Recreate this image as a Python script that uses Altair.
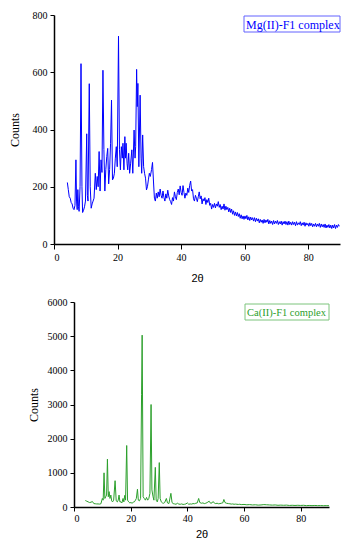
import altair as alt
import pandas as pd

# ---------------- Mg(II)-F1 complex (top) ----------------
mg_label = ["Mg(II)-F1 complex"]
# sharp-peak region (2θ < 31.5)
mg_theta_peaks = [4.2, 4.5, 4.8, 5.1, 5.4, 5.7, 6.0, 6.3, 6.6, 6.9, 7.1, 7.3, 7.5, 7.7, 7.9,
                  8.2, 8.5, 8.8, 9.0, 9.3, 9.6, 9.9, 10.3, 10.5, 10.7, 11.1, 11.4, 11.7, 12.0,
                  12.3, 12.6, 13.0, 13.3, 13.6, 13.9, 14.2, 14.5, 14.8, 15.1, 15.4, 15.7, 16.0,
                  16.3, 16.6, 16.9, 17.2, 17.5, 17.8, 18.1, 18.4, 18.7, 19.0, 19.3, 19.6, 19.9,
                  20.3, 20.6, 20.9, 21.2, 21.5, 21.7, 22.0, 22.3, 22.5, 22.7, 23.0, 23.2, 23.5,
                  23.8, 24.1, 24.5, 24.8, 25.2, 25.5, 25.7, 26.0, 26.2, 26.4, 26.7, 27.1, 27.4,
                  27.6, 27.9, 28.2, 28.5, 28.8, 29.1, 29.4, 29.7, 30.0, 30.3, 30.7, 31.0, 31.3]
mg_counts_peaks = [215, 190, 165, 160, 145, 140, 125, 120, 135, 294, 150, 120, 190, 130, 114,
                   200, 630, 200, 110, 118, 130, 150, 385, 170, 150, 560, 200, 125, 140,
                   150, 160, 247, 190, 236, 200, 323, 185, 294, 250, 607, 330, 185,
                   260, 305, 334, 210, 260, 352, 503, 224, 230, 247, 300, 340, 270,
                   726, 329, 259, 340, 300, 352, 259, 375, 300, 352, 280, 259, 317,
                   247, 280, 329, 247, 398, 300, 340, 610, 480, 561, 270, 520, 300,
                   247, 381, 270, 247, 230, 189, 200, 224, 247, 236, 260, 285, 220]
# noisy amorphous tail (2θ >= 31.6)
mg_theta_tail = [31.6, 31.9, 32.2, 32.5, 32.8, 33.1, 33.4, 33.7, 34.0, 34.3,
                 34.6, 34.9, 35.2, 35.5, 35.8, 36.1, 36.4, 36.7, 37.0, 37.3,
                 37.6, 37.9, 38.2, 38.5, 38.8, 39.1, 39.4, 39.7, 40.0, 40.3,
                 40.6, 40.9, 41.2, 41.5, 41.8, 42.1, 42.4, 42.7, 43.0, 43.3,
                 43.6, 43.9, 44.2, 44.5, 44.8, 45.1, 45.4, 45.7, 46.0, 46.3,
                 46.6, 46.9, 47.2, 47.5, 47.8, 48.1, 48.4, 48.7, 49.0, 49.3,
                 49.6, 49.9, 50.2, 50.5, 50.8, 51.1, 51.4, 51.7, 52.0, 52.3,
                 52.6, 52.9, 53.2, 53.5, 53.8, 54.1, 54.4, 54.7, 55.0, 55.3,
                 55.6, 55.9, 56.2, 56.5, 56.8, 57.1, 57.4, 57.7, 58.0, 58.3,
                 58.6, 58.9, 59.2, 59.5, 59.8, 60.1, 60.4, 60.7, 61.0, 61.3,
                 61.6, 61.9, 62.2, 62.5, 62.8, 63.1, 63.4, 63.7, 64.0, 64.3,
                 64.6, 64.9, 65.2, 65.5, 65.8, 66.1, 66.4, 66.7, 67.0, 67.3,
                 67.6, 67.9, 68.2, 68.5, 68.8, 69.1, 69.4, 69.7, 70.0, 70.3,
                 70.6, 70.9, 71.2, 71.5, 71.8, 72.1, 72.4, 72.7, 73.0, 73.3,
                 73.6, 73.9, 74.2, 74.5, 74.8, 75.1, 75.4, 75.7, 76.0, 76.3,
                 76.6, 76.9, 77.2, 77.5, 77.8, 78.1, 78.4, 78.7, 79.0, 79.3,
                 79.6, 79.9, 80.2, 80.5, 80.8, 81.1, 81.4, 81.7, 82.0, 82.3,
                 82.6, 82.9, 83.2, 83.5, 83.8, 84.1, 84.4, 84.7, 85.0, 85.3,
                 85.6, 85.9, 86.2, 86.5, 86.8, 87.1, 87.4, 87.7, 88.0, 88.3,
                 88.6, 88.9, 89.2, 89.5, 89.8]
mg_counts_tail = [160, 150, 178, 160, 182, 165, 192, 170, 160, 185,
                  162, 150, 175, 160, 188, 168, 155, 148, 138, 162,
                  150, 182, 165, 155, 180, 192, 172, 203, 180, 170,
                  204, 180, 160, 178, 170, 195, 180, 205, 220, 185,
                  190, 158, 150, 170, 160, 148, 165, 182, 158, 168,
                  140, 158, 150, 162, 138, 155, 145, 160, 135, 142,
                  122, 138, 128, 142, 126, 140, 132, 148, 128, 138,
                  120, 132, 122, 140, 118, 132, 120, 128, 112, 125,
                  110, 122, 104, 116, 100, 112, 98, 110, 96, 106,
                  90, 102, 88, 98, 86, 98, 88, 100, 84, 95,
                  82, 94, 84, 92, 80, 92, 78, 90, 80, 88,
                  74, 86, 76, 84, 72, 86, 74, 84, 76, 86,
                  70, 82, 72, 80, 68, 82, 70, 80, 72, 82,
                  68, 78, 70, 80, 66, 78, 70, 80, 68, 78,
                  66, 80, 68, 76, 66, 78, 68, 76, 64, 78,
                  66, 74, 68, 78, 64, 74, 66, 76, 62, 74,
                  66, 72, 62, 74, 64, 72, 60, 70, 62, 72,
                  60, 70, 62, 72, 58, 70, 60, 68, 58, 70,
                  56, 66, 58, 68, 56, 66, 54, 66, 56, 68,
                  54, 66, 58, 68, 62]

# ---------------- Ca(II)-F1 complex (bottom) ----------------
ca_label = ["Ca(II)-F1 complex"]
ca_theta = [4.0, 4.5, 5.0, 5.5, 6.0, 6.5, 7.0, 7.5, 8.0, 8.5, 9.0, 9.5, 10.0, 10.3, 10.6,
            10.9, 11.2, 11.5, 11.8, 12.1, 12.4, 12.7, 13.0, 13.3, 13.6, 14.0, 14.5, 14.9,
            15.3, 15.6, 15.9, 16.2, 16.6, 16.9, 17.3, 17.6, 17.9, 18.2, 18.6, 18.9, 19.3,
            19.7, 20.1, 20.5, 20.9, 21.3, 21.7, 22.0, 22.4, 22.7, 23.1, 23.5, 23.85, 24.05,
            24.4, 24.8, 25.2, 25.6, 26.0, 26.4, 26.8, 27.2, 27.5, 27.9, 28.2, 28.7, 29.0,
            29.4, 29.7, 30.1, 30.4, 30.8, 31.2, 31.6, 32.0, 32.6, 33.0, 33.5, 34.2, 34.6,
            35.0, 35.5, 36.0, 36.5, 37.0, 37.5, 38.0, 38.5, 39.0, 39.5, 40.0, 40.5, 41.0,
            41.5, 42.0, 42.5, 43.0, 43.5, 44.0, 44.4, 45.0, 45.5, 46.0, 46.5, 47.0, 47.7,
            48.2, 48.7, 49.1, 49.6, 50.0, 50.5, 51.0, 51.5, 52.0, 52.5, 52.9, 53.3, 53.8,
            54.5, 55.0, 55.5, 56.0, 56.5, 57.0, 57.5, 58.0, 58.5, 59.0, 60.0, 61.0, 62.0,
            63.0, 64.0, 65.0, 66.0, 67.0, 68.0, 69.0, 70.0, 71.0, 72.0, 73.0, 74.0, 75.0,
            76.0, 77.0, 78.0, 79.0, 80.0, 81.0, 82.0, 83.0, 84.0, 85.0, 86.0, 87.0, 88.0,
            89.0, 90.0]
ca_counts = [190, 170, 150, 130, 140, 160, 100, 95, 90, 90, 85, 95, 250, 200, 1000,
             250, 300, 350, 1400, 300, 450, 250, 350, 180, 150, 200, 770, 180,
             150, 200, 350, 150, 150, 120, 250, 150, 340, 200, 1800, 200, 150,
             120, 130, 110, 140, 150, 200, 250, 520, 200, 180, 250, 3300, 5030,
             300, 250, 200, 280, 200, 250, 400, 3000, 500, 300, 200, 1160, 200,
             150, 250, 1300, 250, 150, 120, 110, 130, 250, 120, 100, 400, 130,
             100, 90, 80, 110, 85, 80, 90, 75, 80, 90, 120, 80, 90,
             85, 100, 95, 110, 120, 250, 130, 110, 120, 100, 110, 130, 170,
             110, 120, 160, 110, 100, 110, 95, 100, 110, 120, 220, 130, 110,
             100, 95, 85, 90, 80, 85, 80, 75, 80, 70, 75, 65, 70,
             60, 65, 55, 60, 70, 65, 60, 55, 60, 50, 55, 50, 55,
             45, 50, 45, 50, 45, 50, 40, 45, 40, 45, 40, 42, 38,
             40, 38]

x_ticks = [0, 20, 40, 60, 80]
mg_y_ticks = [0, 200, 400, 600, 800]
ca_y_ticks = [0, 1000, 2000, 3000, 4000, 5000, 6000]

mg_df = pd.DataFrame({"theta": mg_theta_peaks + mg_theta_tail,
                      "counts": mg_counts_peaks + mg_counts_tail})
ca_df = pd.DataFrame({"theta": ca_theta, "counts": ca_counts})

SERIF = "Liberation Serif"
SANS = "Liberation Sans"
BLUE = "#0000ff"
GREEN = "#2ca02c"


def axis_x(tick, pad, title_pad):
    return alt.Axis(values=x_ticks, title="2θ", titleFont=SANS, titleFontSize=11,
                    titleFontWeight="normal", titlePadding=title_pad, labelFont=SERIF,
                    labelFontSize=10, tickSize=tick, labelPadding=pad, grid=False,
                    domainWidth=1.5, domainColor="black", tickColor="black",
                    labelColor="black", titleColor="black")


def axis_y(vals, title_pad, offset=0):
    return alt.Axis(values=vals, format="d", title="Counts", titleFont=SERIF, titleFontSize=12,
                    titleFontWeight="normal", titlePadding=title_pad, offset=offset,
                    labelFont=SERIF, labelFontSize=10, tickSize=4, labelPadding=3,
                    grid=False, domainWidth=1.5, domainColor="black", tickColor="black",
                    labelColor="black", titleColor="black")


def key_box(label, color, border, x1, x2, y1, y2, size):
    df = pd.DataFrame({"label": label})
    box = alt.Chart(df).mark_rect(fillOpacity=0, stroke=border, strokeWidth=1).encode(
        x=alt.value(x1), x2=alt.value(x2), y=alt.value(y1), y2=alt.value(y2))
    txt = alt.Chart(df).mark_text(align="left", baseline="middle", font=SERIF,
                                  fontSize=size, color=color).encode(
        text="label:N", x=alt.value(x1 + 2), y=alt.value((y1 + y2) / 2 + 0.5))
    return box + txt


mg_line = alt.Chart(mg_df).mark_line(strokeWidth=1, color=BLUE).encode(
    x=alt.X("theta:Q", scale=alt.Scale(domain=[0, 90], nice=False), axis=axis_x(5, 3, 10)),
    y=alt.Y("counts:Q", scale=alt.Scale(domain=[0, 800], nice=False), axis=axis_y(mg_y_ticks, 11)),
)
top = alt.layer(mg_line, key_box(mg_label, BLUE, "#6262ff", 190, 286, 1, 17, 12)).properties(
    width=286, height=229)

ca_line = alt.Chart(ca_df).mark_line(strokeWidth=1, color=GREEN).encode(
    x=alt.X("theta:Q", scale=alt.Scale(domain=[0, 90], nice=False, range=[20, 275]),
            axis=axis_x(4, 2, 5)),
    y=alt.Y("counts:Q", scale=alt.Scale(domain=[0, 6000], nice=False),
            axis=axis_y(ca_y_ticks, 7, -20)),
)
bottom = alt.layer(ca_line, key_box(ca_label, GREEN, "#7cc47c", 191, 275, 2, 18, 10.5)).properties(
    width=275, height=205)

chart = alt.vconcat(top, bottom, spacing=14).resolve_scale(
    x="independent", y="independent"
).properties(
    padding={"left": 0, "top": 2, "right": 0, "bottom": 0}
).configure_view(stroke=None)

chart.save("out.html", embed_options={"renderer": "svg", "actions": False})
